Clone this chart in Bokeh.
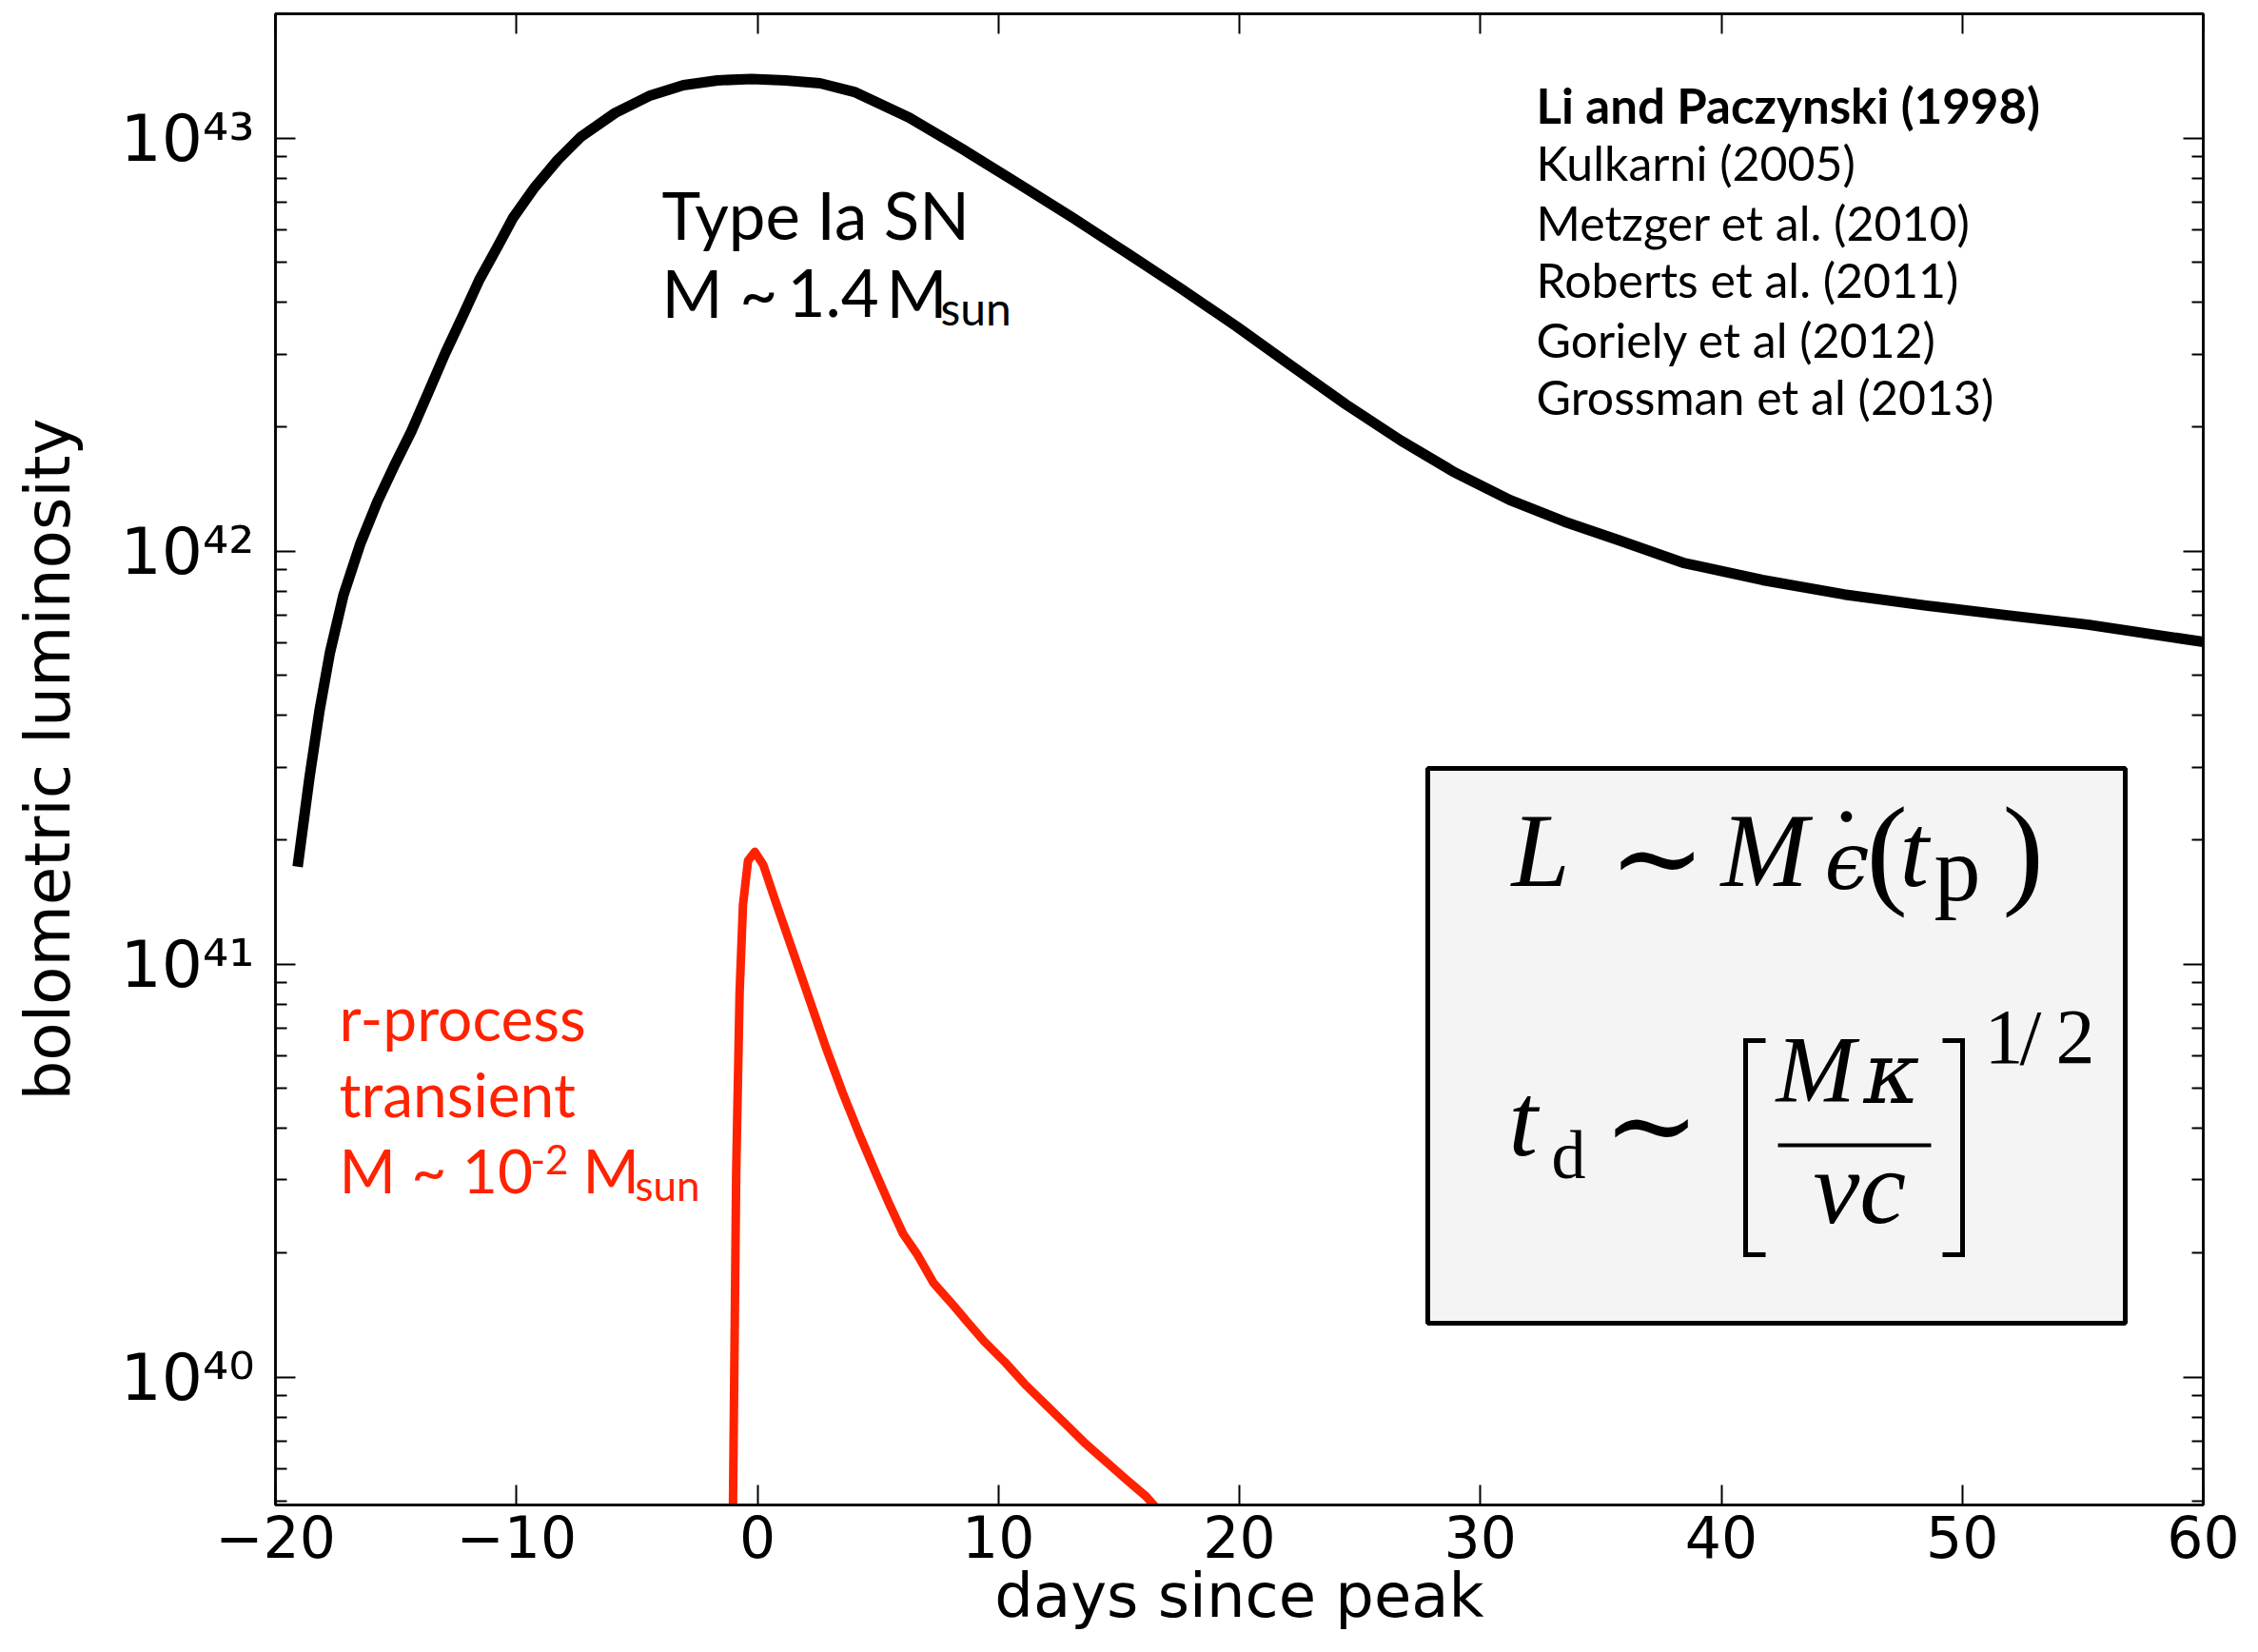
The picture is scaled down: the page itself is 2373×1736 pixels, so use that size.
import math
from bokeh.plotting import figure
from bokeh.models import (Range1d, FixedTicker, LinearAxis, LogAxis,
                          CustomJSTickFormatter, BoxAnnotation, Label)
from bokeh.embed import file_html
from bokeh.resources import INLINE

# ---------------- data ----------------
sn_days = [-19.08, -18.59, -18.17, -17.74, -17.18, -16.47, -15.77, -15.06, -14.36, -13.65,
           -12.95, -12.24, -11.54, -10.83, -10.13, -9.28, -8.29, -7.31, -5.90, -4.49,
           -3.07, -1.66, -0.25, 1.16, 2.6, 4.02, 6.29, 8.55, 10.82, 13.09,
           15.35, 17.62, 19.88, 22.15, 24.42, 26.69, 28.95, 31.22, 33.49, 35.75,
           38.4, 41.7, 45.1, 48.5, 51.8, 55.2, 60.0]
sn_lum = [1.722e41, 2.825e41, 4.121e41, 5.675e41, 7.816e41, 1.045e42, 1.318e42, 1.614e42, 1.950e42, 2.427e42,
          3.020e42, 3.698e42, 4.539e42, 5.395e42, 6.427e42, 7.551e42, 8.851e42, 1.009e43, 1.151e43, 1.265e43,
          1.343e43, 1.380e43, 1.390e43, 1.380e43, 1.358e43, 1.294e43, 1.122e43, 9.376e42, 7.762e42, 6.412e42,
          5.260e42, 4.305e42, 3.499e42, 2.812e42, 2.265e42, 1.854e42, 1.549e42, 1.330e42, 1.178e42, 1.062e42,
          9.376e41, 8.511e41, 7.852e41, 7.379e41, 6.998e41, 6.637e41, 6.026e41]

rp_days = [-1.05, -0.95, -0.88, -0.74, -0.60, -0.39, -0.11, 0.24, 0.73, 1.43,
           2.13, 2.83, 3.53, 4.23, 4.93, 5.49, 6.05, 6.61, 7.31, 8.01,
           8.71, 9.41, 10.25, 11.09, 11.93, 12.77, 13.61, 14.45, 15.29, 16.13, 16.9]
rp_lum = [3.0e39, 1.19e40, 3.16e40, 8.51e40, 1.39e41, 1.78e41, 1.87e41, 1.74e41, 1.43e41, 1.09e41,
          8.30e40, 6.31e40, 4.89e40, 3.87e40, 3.10e40, 2.61e40, 2.22e40, 1.99e40, 1.69e40, 1.52e40,
          1.36e40, 1.22e40, 1.09e40, 9.62e39, 8.61e39, 7.71e39, 6.90e39, 6.25e39, 5.66e39, 5.14e39, 4.57e39]

x_ticks = [-20, -10, 0, 10, 20, 30, 40, 50, 60]
y_ticks = [1e40, 1e41, 1e42, 1e43]
y_minor = [m * 10.0 ** e for e in range(39, 44) for m in range(2, 10)]

x_title = "days since peak"
y_title = "bolometric luminosity"
references = ["Li and Paczynski (1998)", "Kulkarni (2005)", "Metzger et al. (2010)",
              "Roberts et al. (2011)", "Goriely et al (2012)", "Grossman et al (2013)"]

X_RANGE = (-20, 60)
Y_RANGE = (4.9e39, 2.0e43)

# ---------------- layout ----------------
FRAME_L, FRAME_T, FRAME_W, FRAME_H = 289, 14, 2026, 1567
RED = "#ff2200"
SANS = "DejaVu Sans"
GILL = "Lato"
SERIF = "Liberation Serif"
DSERIF = "DejaVu Serif"

p = figure(frame_width=FRAME_W, frame_height=FRAME_H,
           x_range=Range1d(*X_RANGE), y_range=Range1d(*Y_RANGE),
           y_axis_type="log", output_backend="svg", toolbar_location=None,
           min_border_left=FRAME_L, min_border_right=58,
           min_border_top=FRAME_T, min_border_bottom=155,
           background_fill_color="white", border_fill_color="white")
p.xgrid.visible = False
p.ygrid.visible = False
p.outline_line_color = "black"
p.outline_line_width = 2.5

blank = CustomJSTickFormatter(code="return '';")


def style_axis(ax, labels=True):
    ax.axis_line_width = 2.5
    ax.axis_line_color = "black"
    ax.major_tick_in = 21
    ax.major_tick_out = 0
    ax.minor_tick_in = 12
    ax.minor_tick_out = 0
    ax.major_tick_line_width = 2
    ax.minor_tick_line_width = 2
    ax.major_tick_line_color = "black"
    ax.minor_tick_line_color = "black"
    if labels:
        ax.major_label_text_font = SANS
        ax.major_label_text_font_size = "60px"
        ax.major_label_text_color = "black"
        ax.axis_label_text_font = SANS
        ax.axis_label_text_font_size = "64px"
        ax.axis_label_text_font_style = "normal"
        ax.axis_label_text_color = "black"
    else:
        ax.formatter = blank
        ax.major_label_text_font_size = "1px"
        ax.major_label_standoff = 0


xa = p.xaxis[0]
xa.ticker = FixedTicker(ticks=x_ticks, minor_ticks=[])
xa.formatter = CustomJSTickFormatter(code="return tick < 0 ? '\u2212' + Math.abs(tick) : '' + tick;")
style_axis(xa)
xa.major_label_standoff = 10
xa.axis_label = x_title
xa.axis_label_standoff = 0

ya = p.yaxis[0]
ya.ticker = FixedTicker(ticks=y_ticks, minor_ticks=y_minor)
ya.formatter = CustomJSTickFormatter(code="""
const sup = {"0":"\u2070","1":"\u00b9","2":"\u00b2","3":"\u00b3","4":"\u2074",
             "5":"\u2075","6":"\u2076","7":"\u2077","8":"\u2078","9":"\u2079","-":"\u207b"};
const e = Math.round(Math.log10(tick));
return "10" + String(e).split("").map(c => sup[c]).join("");
""")
style_axis(ya)
ya.major_label_text_font_size = "68px"
ya.major_label_standoff = 22
ya.axis_label = y_title
ya.axis_label_text_font_size = "66px"
ya.axis_label_standoff = 34

top = LinearAxis(ticker=FixedTicker(ticks=x_ticks, minor_ticks=[]))
style_axis(top, labels=False)
p.add_layout(top, "above")
right = LogAxis(ticker=FixedTicker(ticks=y_ticks, minor_ticks=y_minor))
style_axis(right, labels=False)
p.add_layout(right, "right")

# ---------------- formula box (under the glyphs) ----------------
LY0, LY1 = math.log10(Y_RANGE[0]), math.log10(Y_RANGE[1])


def dx(px):
    return X_RANGE[0] + (px - FRAME_L) * (X_RANGE[1] - X_RANGE[0]) / FRAME_W


def dy(py):
    return 10 ** (LY1 - (py - FRAME_T) * (LY1 - LY0) / FRAME_H)


p.add_layout(BoxAnnotation(left=dx(1500), right=dx(2233), top=dy(807), bottom=dy(1390),
                           fill_color="#f4f4f4", fill_alpha=1.0,
                           line_color="black", line_alpha=1.0, line_width=5,
                           level="underlay"))

# ---------------- curves ----------------
p.line(sn_days, sn_lum, line_color="black", line_width=11, line_join="round")
p.line(rp_days, rp_lum, line_color=RED, line_width=9, line_join="round")


def label(text, px, py, size, font=GILL, color="black", style="normal", align="left"):
    # py is the wanted alphabetic baseline (design pixels); Bokeh's label baseline
    # sits about 0.42 em lower, so compensate
    p.add_layout(Label(x=dx(px), y=dy(py - 0.42 * size), text=text, text_font=font,
                       text_font_size=f"{size}px", text_color=color,
                       text_font_style=style, text_align=align,
                       text_baseline="alphabetic"))


# references
ref_base = [131.5, 191.8, 254, 314.6, 377, 437]
for i, (t, b) in enumerate(zip(references, ref_base)):
    if i == 0:
        label(t, 1614, b, 51, style="bold")
    else:
        label(t, 1614, b, 50)

# Type Ia
label("Type Ia SN", 695, 254, 69)
label("M ~", 695, 336, 69)
label("1.4", 827, 336, 69)
label("M", 931, 336, 69)
label("sun", 988, 343, 48)

# r-process
label("r-process", 356, 1096, 64, color=RED)
label("transient", 356, 1176, 64, color=RED)
label("M ~ 10", 356, 1256, 64, color=RED)
label("-2", 557, 1236, 42, color=RED)
label("M", 612, 1256, 64, color=RED)
label("sun", 667, 1263, 44, color=RED)

# line 1: L ~ M eps-dot (t_p)
label("L", 1588, 940, 110, font=SERIF, style="italic")
label("\u223c", 1690, 952, 122, font=DSERIF)
label("M", 1808, 940, 110, font=SERIF, style="italic")
label("\u03f5", 1917, 940, 84, font=DSERIF, style="italic")
label(".", 1940, 872, 100, font=SERIF, align="center")
label("(", 1961, 947, 130, font=SERIF)
label("t", 1996, 940, 110, font=SERIF, style="italic")
label("p", 2032, 954, 98, font=SERIF)
label(")", 2104, 947, 130, font=SERIF)

# line 2: t_d ~ [M kappa / v c]^(1/2)
label("t", 1585, 1223, 110, font=SERIF, style="italic")
label("d", 1630, 1244, 72, font=SERIF)
label("\u223c", 1684, 1233, 122, font=DSERIF)
label("M", 1866, 1165, 100, font=SERIF, style="italic")
label("\u03ba", 1958, 1165, 90, font=DSERIF, style="italic")
label("vc", 1905, 1294, 110, font=SERIF, style="italic")
label("1", 2085, 1124, 82, font=SERIF)
label("/", 2122, 1124, 82, font=SERIF)
label("2", 2160, 1124, 82, font=SERIF)

# fraction bar and brackets
p.segment(x0=[dx(1868)], y0=[dy(1203)], x1=[dx(2029)], y1=[dy(1203)],
          line_color="black", line_width=4)
p.multi_line(xs=[[dx(1855), dx(1834), dx(1834), dx(1855)],
                 [dx(2041), dx(2062), dx(2062), dx(2041)]],
             ys=[[dy(1093), dy(1093), dy(1318), dy(1318)],
                 [dy(1093), dy(1093), dy(1318), dy(1318)]],
             line_color="black", line_width=5, line_join="miter")

open("out.html", "w").write(file_html(p, INLINE))
